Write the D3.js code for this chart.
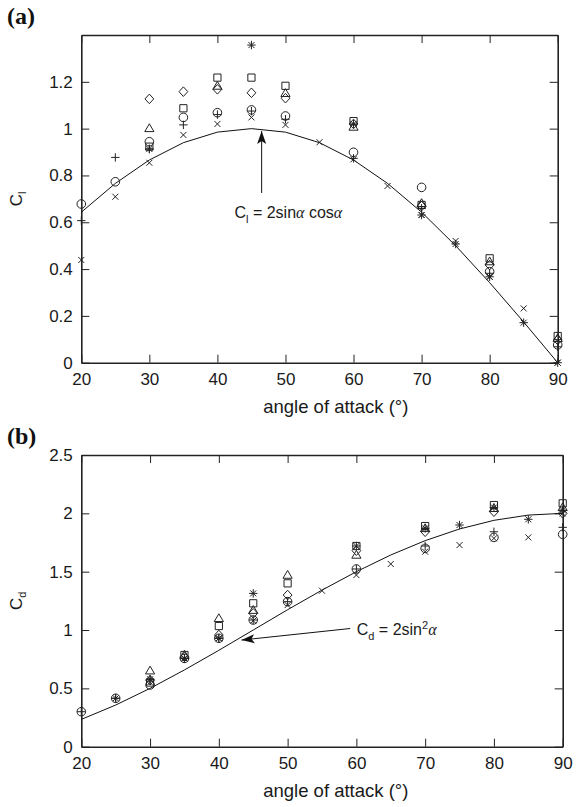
<!DOCTYPE html>
<html>
<head>
<meta charset="utf-8">
<title>Lift and drag coefficients</title>
<script src="https://d3js.org/d3.v7.min.js"></script>
<style>
  body { margin: 0; background: #fff; }
  svg { font-family: "Liberation Sans", Arial, Helvetica, sans-serif; }
  .axis text { font-size: 17px; fill: #1a1a1a; }
  .axis line { stroke: #222; stroke-width: 1px; }
  .axis path { stroke: #222; stroke-width: 1.6px; }
  .curve { fill: none; stroke: #111; stroke-width: 1px; }
  .mark { fill: none; stroke: #222; stroke-width: 1px; }
</style>
</head>
<body>
<script>
// ---- data ----
var curveAngles = [20, 25, 30, 35, 40, 45, 50, 55, 60, 65, 70, 75, 80, 85, 90];
var xTicks = [20, 30, 40, 50, 60, 70, 80, 90];
var liftTicks = [0, 0.2, 0.4, 0.6, 0.8, 1, 1.2];
var dragTicks = [0, 0.5, 1, 1.5, 2, 2.5];

// theory curves at 5 deg steps
var liftCurve = [0.643, 0.766, 0.866, 0.940, 0.985, 1.0, 0.985, 0.940, 0.866, 0.766, 0.643, 0.5, 0.342, 0.174, 0.0];
var dragCurve = [0.234, 0.357, 0.5, 0.658, 0.826, 1.0, 1.174, 1.342, 1.5, 1.643, 1.766, 1.866, 1.940, 1.985, 2.0];

// (a) lift measurements [angle, Cl]
var liftCircle   = [[20,0.678],[25,0.773],[30,0.944],[35,1.048],[40,1.068],[45,1.080],[50,1.054],[60,0.899],[70,0.749],[80,0.389],[90,0.076]];
var liftCross    = [[20,0.439],[25,0.709],[30,0.854],[35,0.973],[40,1.020],[45,1.048],[50,1.016],[55,0.942],[60,0.869],[65,0.755],[70,0.631],[75,0.520],[80,0.367],[85,0.232],[90,0.0]];
var liftPlus     = [[20,0.607],[25,0.877],[30,0.913],[35,1.016],[40,1.060],[45,1.075],[50,1.040],[60,0.873],[70,0.660],[80,0.382],[90,0.068]];
var liftStar     = [[30,0.913],[45,1.357],[60,1.020],[70,0.631],[75,0.507],[80,0.367],[85,0.171],[90,0.0]];
var liftSquare   = [[30,0.923],[35,1.087],[40,1.218],[45,1.218],[50,1.183],[60,1.032],[70,0.674],[80,0.446],[90,0.114]];
var liftDiamond  = [[30,1.127],[35,1.158],[40,1.168],[45,1.153],[50,1.130],[60,1.020],[70,0.669],[80,0.417],[90,0.097]];
var liftTriangle = [[30,1.001],[40,1.182],[50,1.151],[60,1.007],[70,0.681],[80,0.432],[90,0.104]];

// (b) drag measurements [angle, Cd]
var dragCircle   = [[20,0.300],[25,0.415],[30,0.529],[35,0.757],[40,0.929],[45,1.086],[50,1.243],[60,1.523],[70,1.700],[80,1.794],[90,1.820]];
var dragCross    = [[30,0.550],[35,0.757],[40,0.929],[45,1.080],[50,1.214],[55,1.337],[60,1.471],[65,1.566],[70,1.671],[75,1.728],[80,1.786],[85,1.794],[90,2.0]];
var dragPlus     = [[20,0.300],[25,0.415],[30,0.578],[35,0.757],[40,0.929],[45,1.086],[50,1.243],[60,1.523],[70,1.720],[80,1.842],[90,1.880]];
var dragStar     = [[25,0.415],[30,0.578],[35,0.757],[40,0.929],[45,1.314],[60,1.720],[70,1.871],[75,1.900],[80,2.050],[85,1.949],[90,2.028]];
var dragSquare   = [[30,0.550],[35,0.786],[40,1.034],[45,1.229],[50,1.400],[60,1.720],[70,1.891],[80,2.071],[90,2.086]];
var dragDiamond  = [[30,0.570],[35,0.770],[40,0.957],[45,1.143],[50,1.300],[60,1.680],[70,1.842],[80,2.014],[90,2.0]];
var dragTriangle = [[30,0.651],[35,0.786],[40,1.100],[45,1.170],[50,1.471],[60,1.643],[70,1.871],[80,2.043],[90,2.051]];

// ---- marker shapes ----
var markers = {
  circle:   "M-4.3,0A4.3,4.3 0 1,0 4.3,0A4.3,4.3 0 1,0 -4.3,0Z",
  cross:    "M-3,-3L3,3M-3,3L3,-3",
  plus:     "M-4.2,0H4.2M0,-4.2V4.2",
  star:     "M-4.2,0H4.2M0,-4.2V4.2M-3,-3L3,3M-3,3L3,-3",
  square:   "M-3.6,-3.6H3.6V3.6H-3.6Z",
  diamond:  "M0,-4.8L4.4,0L0,4.8L-4.4,0Z",
  triangle: "M0,-4.6L4.6,3.2L-4.6,3.2Z"
};

var W = 577, H = 807;
var svg = d3.select("body").append("svg")
    .attr("width", W)
    .attr("height", H);

function drawPanel(cfg) {
  var x = d3.scaleLinear().domain([20, 90]).range([cfg.left, cfg.right]);
  var y = d3.scaleLinear().domain(cfg.yDomain).range([cfg.bottom, cfg.top]);
  var g = svg.append("g");

  // frame axes, ticks pointing in
  g.append("g").attr("class", "axis")
      .attr("transform", "translate(0," + cfg.bottom + ")")
      .call(d3.axisBottom(x).tickValues(xTicks).tickSizeInner(-8).tickSizeOuter(0).tickPadding(10));
  g.append("g").attr("class", "axis")
      .attr("transform", "translate(0," + cfg.top + ")")
      .call(d3.axisTop(x).tickValues(xTicks).tickSizeInner(-8).tickSizeOuter(0).tickFormat(""));
  g.append("g").attr("class", "axis")
      .attr("transform", "translate(" + cfg.left + ",0)")
      .call(d3.axisLeft(y).tickValues(cfg.yTicks).tickSizeInner(-8).tickSizeOuter(0).tickPadding(8.5)
            .tickFormat(function(d) { return String(d); }));
  g.append("g").attr("class", "axis")
      .attr("transform", "translate(" + cfg.right + ",0)")
      .call(d3.axisRight(y).tickValues(cfg.yTicks).tickSizeInner(-8).tickSizeOuter(0).tickFormat(""));
  g.selectAll(".axis .domain").attr("fill", "none");

  // theory curve
  var line = d3.line()
      .x(function(d, i) { return x(curveAngles[i]); })
      .y(function(d) { return y(d); });
  g.append("path").attr("class", "curve").attr("d", line(cfg.curve));

  // measured points
  cfg.series.forEach(function(s) {
    g.selectAll(null)
      .data(s.data)
      .enter().append("path")
      .attr("class", "mark")
      .attr("d", markers[s.shape])
      .attr("transform", function(d) { return "translate(" + x(d[0]) + "," + y(d[1]) + ")"; });
  });

  // axis titles
  var mid = (cfg.top + cfg.bottom) / 2;
  var yl = g.append("text")
      .attr("transform", "translate(21.5," + mid + ") rotate(-90)")
      .attr("text-anchor", "middle")
      .style("font-size", "17px")
      .attr("fill", "#1a1a1a");
  yl.append("tspan").text("C");
  yl.append("tspan").attr("dy", 4).style("font-size", "11px").text(cfg.sub);

  g.append("text")
      .attr("x", x(20) + 254.5)
      .attr("y", cfg.bottom + 50)
      .attr("text-anchor", "middle")
      .style("font-size", "18.5px")
      .attr("fill", "#1a1a1a")
      .text("angle of attack (\u00b0)");

  // panel letter
  g.append("text")
      .attr("x", 7)
      .attr("y", cfg.top - 11.5)
      .style("font-family", "'Liberation Serif', 'Times New Roman', serif")
      .style("font-weight", "bold")
      .style("font-size", "24px")
      .attr("fill", "#111")
      .text(cfg.letter);

  // annotation arrow
  var a = cfg.arrow;
  var x0 = x(a.from[0]), y0 = y(a.from[1]), x1 = x(a.to[0]), y1 = y(a.to[1]);
  var ang = Math.atan2(y1 - y0, x1 - x0) * 180 / Math.PI;
  g.append("line")
      .attr("x1", x0).attr("y1", y0).attr("x2", x1).attr("y2", y1)
      .attr("stroke", "#111").attr("stroke-width", 1);
  g.append("path")
      .attr("d", "M0,0L-13,-4.5L-10,0L-13,4.5Z")
      .attr("fill", "#111")
      .attr("transform", "translate(" + x1 + "," + y1 + ") rotate(" + ang + ")");

  var t = g.append("text")
      .attr("x", x(a.label[0]))
      .attr("y", y(a.label[1]))
      .style("font-size", "16px")
      .attr("fill", "#1a1a1a");
  cfg.labelParts(t);
}

drawPanel({
  letter: "(a)", sub: "l",
  left: 81.3, right: 557.7, top: 35, bottom: 362.7,
  yDomain: [0, 1.4], yTicks: liftTicks, curve: liftCurve,
  series: [
    {shape: "circle", data: liftCircle}, {shape: "cross", data: liftCross},
    {shape: "plus", data: liftPlus}, {shape: "star", data: liftStar},
    {shape: "square", data: liftSquare}, {shape: "diamond", data: liftDiamond},
    {shape: "triangle", data: liftTriangle}
  ],
  arrow: {from: [46.5, 0.725], to: [46.5, 0.99], label: [42.5, 0.618]},
  labelParts: function(t) {
    t.append("tspan").text("C");
    t.append("tspan").attr("dy", 5).style("font-size", "11px").text("l");
    t.append("tspan").attr("dy", -5).text(" = 2sin");
    t.append("tspan").style("font-family", "'Liberation Serif', serif").style("font-style", "italic").text("\u03b1");
    t.append("tspan").text(" cos");
    t.append("tspan").style("font-family", "'Liberation Serif', serif").style("font-style", "italic").text("\u03b1");
  }
});

drawPanel({
  letter: "(b)", sub: "d",
  left: 81.3, right: 562.7, top: 455, bottom: 746.7,
  yDomain: [0, 2.5], yTicks: dragTicks, curve: dragCurve,
  series: [
    {shape: "circle", data: dragCircle}, {shape: "cross", data: dragCross},
    {shape: "plus", data: dragPlus}, {shape: "star", data: dragStar},
    {shape: "square", data: dragSquare}, {shape: "diamond", data: dragDiamond},
    {shape: "triangle", data: dragTriangle}
  ],
  arrow: {from: [59.1, 1.013], to: [43.3, 0.914], label: [60.05, 0.957]},
  labelParts: function(t) {
    t.append("tspan").text("C");
    t.append("tspan").attr("dy", 5).style("font-size", "11px").text("d");
    t.append("tspan").attr("dy", -5).text(" = 2sin");
    t.append("tspan").attr("dy", -6).style("font-size", "11px").text("2");
    t.append("tspan").attr("dy", 6).style("font-family", "'Liberation Serif', serif").style("font-style", "italic").text("\u03b1");
  }
});
</script>
</body>
</html>
